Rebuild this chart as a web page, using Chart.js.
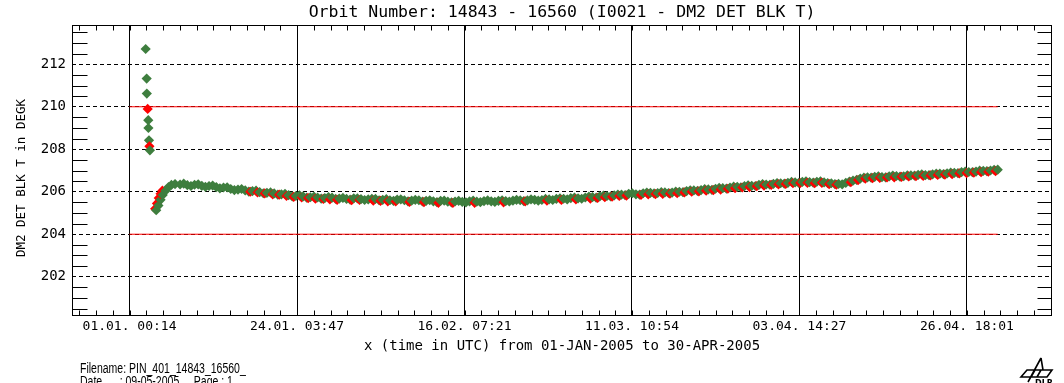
<!DOCTYPE html>
<html>
<head>
<meta charset="utf-8">
<title>DM2 DET BLK T</title>
<script src="https://cdn.jsdelivr.net/npm/chart.js@4.4.1/dist/chart.umd.min.js"></script>
<style>
    html, body { margin: 0; padding: 0; background: #fff; }
    #wrap { width: 1064px; height: 383px; }
</style>
</head>
<body>
<div id="wrap"><canvas id="chart" width="1064" height="383"></canvas></div>
<script>
// x values are days since 01-JAN-2005 00:00
var xTickDays = [0.0097, 23.158, 46.306, 69.454, 92.602, 115.750];
var xTickLabels = ['01.01. 00:14', '24.01. 03:47', '16.02. 07:21', '11.03. 10:54', '03.04. 14:27', '26.04. 18:01'];
var yTicks = [202, 204, 206, 208, 210, 212];

// red limit lines
var limitDays = [0, 120];
var lowLimit = 204;
var highLimit = 210;

// green diamonds, start-up and one per day
var greenDays = [
    2.24, 2.38, 2.40, 2.60, 2.62, 2.70, 2.83,
    3.7, 4.0, 4.3, 4.6, 5.0, 5.4, 5.8, 6.3,
    7, 8, 9, 10, 11, 12, 13, 14, 15, 16,
    17, 18, 19, 20, 21, 22, 23, 24, 25, 26,
    27, 28, 29, 30, 31, 32, 33, 34, 35, 36,
    37, 38, 39, 40, 41, 42, 43, 44, 45, 46,
    47, 48, 49, 50, 51, 52, 53, 54, 55, 56,
    57, 58, 59, 60, 61, 62, 63, 64, 65, 66,
    67, 68, 69, 70, 71, 72, 73, 74, 75, 76,
    77, 78, 79, 80, 81, 82, 83, 84, 85, 86,
    87, 88, 89, 90, 91, 92, 93, 94, 95, 96,
    97, 98, 99, 100, 101, 102, 103, 104, 105, 106,
    107, 108, 109, 110, 111, 112, 113, 114, 115, 116,
    117, 118, 119, 120
];
var greenTemps = [
    212.72, 211.33, 210.62, 209.37, 209.00, 208.42, 207.95,
    205.13, 205.35, 205.62, 205.85, 206.05, 206.22, 206.32, 206.36,
    206.34, 206.31, 206.33, 206.28, 206.27, 206.22, 206.20, 206.13, 206.10, 206.06,
    206.03, 205.98, 205.95, 205.92, 205.88, 205.84, 205.80, 205.78, 205.74, 205.73,
    205.70, 205.72, 205.68, 205.66, 205.69, 205.65, 205.64, 205.66, 205.62, 205.60,
    205.63, 205.60, 205.58, 205.60, 205.57, 205.55, 205.57, 205.53, 205.54, 205.52,
    205.55, 205.53, 205.56, 205.55, 205.57, 205.56, 205.58, 205.60, 205.59, 205.62,
    205.61, 205.64, 205.66, 205.67, 205.70, 205.69, 205.73, 205.75, 205.78, 205.80,
    205.83, 205.86, 205.90, 205.88, 205.93, 205.95, 205.94, 205.97, 205.96, 206.00,
    206.03, 206.06, 206.08, 206.11, 206.14, 206.17, 206.20, 206.23, 206.26, 206.28,
    206.32, 206.34, 206.37, 206.40, 206.42, 206.44, 206.46, 206.45, 206.47, 206.44,
    206.40, 206.37, 206.42, 206.52, 206.62, 206.68, 206.70, 206.69, 206.72, 206.74,
    206.73, 206.77, 206.79, 206.78, 206.82, 206.85, 206.86, 206.89, 206.92, 206.93,
    206.95, 206.98, 207.00, 207.04
];

// green diamonds in between, at mid-day
var greenHalfDays = [
    7.5, 8.5, 9.5, 10.5, 11.5, 12.5, 13.5, 14.5, 15.5, 16.5,
    17.5, 18.5, 19.5, 20.5, 21.5, 22.5, 23.5, 24.5, 25.5, 26.5,
    27.5, 28.5, 29.5, 30.5, 31.5, 32.5, 33.5, 34.5, 35.5, 36.5,
    37.5, 38.5, 39.5, 40.5, 41.5, 42.5, 43.5, 44.5, 45.5, 46.5,
    47.5, 48.5, 49.5, 50.5, 51.5, 52.5, 53.5, 54.5, 55.5, 56.5,
    57.5, 58.5, 59.5, 60.5, 61.5, 62.5, 63.5, 64.5, 65.5, 66.5,
    67.5, 68.5, 69.5, 70.5, 71.5, 72.5, 73.5, 74.5, 75.5, 76.5,
    77.5, 78.5, 79.5, 80.5, 81.5, 82.5, 83.5, 84.5, 85.5, 86.5,
    87.5, 88.5, 89.5, 90.5, 91.5, 92.5, 93.5, 94.5, 95.5, 96.5,
    97.5, 98.5, 99.5, 100.5, 101.5, 102.5, 103.5, 104.5, 105.5, 106.5,
    107.5, 108.5, 109.5, 110.5, 111.5, 112.5, 113.5, 114.5, 115.5, 116.5,
    117.5, 118.5, 119.5
];
var greenHalfTemps = [
    206.38, 206.27, 206.35, 206.23, 206.29, 206.16, 206.21, 206.08, 206.13, 206.01,
    206.05, 205.93, 205.97, 205.86, 205.90, 205.78, 205.83, 205.72, 205.77, 205.68,
    205.75, 205.66, 205.71, 205.63, 205.69, 205.61, 205.67, 205.60, 205.65, 205.57,
    205.64, 205.55, 205.62, 205.54, 205.60, 205.51, 205.58, 205.50, 205.57, 205.50,
    205.58, 205.51, 205.59, 205.52, 205.60, 205.54, 205.62, 205.56, 205.64, 205.58,
    205.66, 205.61, 205.69, 205.64, 205.73, 205.67, 205.77, 205.72, 205.82, 205.78,
    205.87, 205.84, 205.93, 205.86, 205.96, 205.92, 205.98, 205.94, 206.01, 205.98,
    206.07, 206.04, 206.12, 206.09, 206.18, 206.15, 206.24, 206.21, 206.30, 206.27,
    206.36, 206.33, 206.41, 206.38, 206.46, 206.42, 206.49, 206.43, 206.49, 206.41,
    206.36, 206.35, 206.48, 206.56, 206.66, 206.66, 206.73, 206.68, 206.76, 206.71,
    206.77, 206.76, 206.82, 206.78, 206.85, 206.83, 206.90, 206.88, 206.95, 206.92,
    206.99, 206.97, 207.03
];

// red diamonds
var redDays = [
    2.52, 2.76,
    3.55, 3.8, 4.05, 4.3, 4.55,
    16.7, 17.7, 18.7, 19.8, 20.7, 21.7, 22.7, 23.8, 24.7, 25.7,
    26.8, 27.7, 28.7, 30.7, 31.8, 33.7, 34.7, 35.7, 36.8, 38.7,
    40.7, 42.7, 44.7, 47.7, 51.7, 54.7, 57.7, 59.7, 61.7, 63.7,
    64.7, 65.7, 66.7, 67.7, 68.7, 70.7, 71.7, 72.7, 73.7, 74.7,
    75.7, 76.7, 77.7, 78.7, 79.7, 80.7, 81.7, 82.7, 83.7, 84.7,
    85.7, 86.7, 87.7, 88.7, 89.7, 90.7, 91.7, 92.7, 93.7, 94.7,
    95.7, 96.7, 97.7, 99.7, 100.7, 101.7, 102.7, 103.7, 104.7, 105.7,
    106.7, 107.7, 108.7, 109.7, 110.7, 111.7, 112.7, 113.7, 114.7, 115.7,
    116.7, 117.7, 118.7, 119.7
];
var redTemps = [
    209.90, 208.14,
    205.20, 205.45, 205.70, 205.90, 206.05,
    206.00, 205.97, 205.92, 205.88, 205.86, 205.80, 205.76, 205.73, 205.70, 205.67,
    205.66, 205.64, 205.62, 205.60, 205.61, 205.58, 205.57, 205.55, 205.54, 205.52,
    205.51, 205.48, 205.47, 205.48, 205.50, 205.55, 205.58, 205.61, 205.64, 205.68,
    205.71, 205.74, 205.77, 205.80, 205.82, 205.85, 205.88, 205.89, 205.90, 205.91,
    205.93, 205.97, 206.00, 206.02, 206.05, 206.08, 206.10, 206.14, 206.17, 206.20,
    206.22, 206.26, 206.29, 206.32, 206.35, 206.37, 206.40, 206.41, 206.42, 206.40,
    206.42, 206.36, 206.33, 206.45, 206.55, 206.62, 206.64, 206.65, 206.67, 206.68,
    206.70, 206.72, 206.73, 206.74, 206.77, 206.79, 206.81, 206.83, 206.86, 206.88,
    206.90, 206.92, 206.94, 206.97
];

var mono = 'DejaVu Sans Mono';
var green = '#3e7e3e';
var red = '#ff0000';

// one series in time order so later points are drawn over earlier ones
function buildSeries() {
    var pts = [];
    var i;
    for (i = 0; i < greenDays.length; i++) pts.push({x: greenDays[i], y: greenTemps[i], c: green});
    for (i = 0; i < greenHalfDays.length; i++) pts.push({x: greenHalfDays[i], y: greenHalfTemps[i], c: green});
    for (i = 0; i < redDays.length; i++) pts.push({x: redDays[i], y: redTemps[i], c: red});
    pts.sort(function (a, b) { return a.x - b.x; });
    return pts;
}

function toPoints(xs, ys) {
    var pts = [];
    for (var i = 0; i < xs.length; i++) {
        pts.push({x: xs[i], y: ys[i]});
    }
    return pts;
}

var series = buildSeries();

// frame, minor ticks, title, footer text and logo
var decorPlugin = {
    id: 'decor',
    afterDraw: function (chart) {
        var ctx = chart.ctx;
        var a = chart.chartArea;
        var xs = chart.scales.x;
        var ys = chart.scales.y;
        var L = Math.round(a.left) + 0.5, R = Math.round(a.right) - 0.5;
        var T = Math.round(a.top) + 0.5, B = Math.round(a.bottom) - 0.5;

        ctx.save();
        ctx.strokeStyle = '#000';
        ctx.lineWidth = 1;
        ctx.strokeRect(L, T, R - L, B - T);

        // y minor ticks every 0.5
        ctx.beginPath();
        for (var v = 200.5; v < ys.max; v += 0.5) {
            if (yTicks.indexOf(v) >= 0) continue;
            var py = Math.round(ys.getPixelForValue(v)) + 0.5;
            ctx.moveTo(L, py); ctx.lineTo(L + 15, py);
            ctx.moveTo(R, py); ctx.lineTo(R - 14, py);
        }
        // x minor ticks, tenths of the major interval
        var step = (xTickDays[1] - xTickDays[0]) / 10;
        var start = xTickDays[0] - Math.floor((xTickDays[0] - xs.min) / step) * step;
        for (var d = start; d < xs.max; d += step) {
            var px = Math.round(xs.getPixelForValue(d)) + 0.5;
            ctx.moveTo(px, B); ctx.lineTo(px, B - 5);
            ctx.moveTo(px, T); ctx.lineTo(px, T + 5);
        }
        ctx.stroke();

        // title
        ctx.fillStyle = '#000';
        ctx.font = '16.5px ' + mono;
        ctx.textAlign = 'center';
        ctx.textBaseline = 'middle';
        ctx.fillText('Orbit Number: 14843 - 16560 (I0021 - DM2 DET BLK T)', (a.left + a.right) / 2, 13);

        // footer, narrow lettering
        ctx.textAlign = 'left';
        ctx.textBaseline = 'alphabetic';
        ctx.font = '14px "Liberation Sans"';
        ctx.save();
        ctx.translate(80, 0);
        ctx.scale(0.75, 1);
        ctx.fillText('Filename: PIN_401_14843_16560_', 0, 373);
        ctx.fillText('Date      : 09-05-2005     Page : 1', 0, 386);
        ctx.restore();

        // DLR logo
        ctx.lineWidth = 1.6;
        ctx.beginPath();
        ctx.moveTo(1041, 358); ctx.lineTo(1028, 382);
        ctx.moveTo(1041, 358); ctx.lineTo(1043, 370);
        ctx.moveTo(1027, 370); ctx.lineTo(1052, 370);
        ctx.lineTo(1047, 377); ctx.lineTo(1021, 377); ctx.closePath();
        ctx.moveTo(1035, 370); ctx.lineTo(1031, 377);
        ctx.moveTo(1041, 370); ctx.lineTo(1037, 377);
        ctx.stroke();
        ctx.font = 'bold 8px "DejaVu Sans"';
        ctx.fillText('DLR', 1035, 386);
        ctx.restore();
    }
};

var ctx = document.getElementById('chart').getContext('2d');
var chart = new Chart(ctx, {
    type: 'scatter',
    data: {
        datasets: [
            {
                label: 'DM2 DET BLK T',
                data: series,
                pointStyle: 'rectRot',
                pointRadius: 5.1,
                borderWidth: 0,
                backgroundColor: series.map(function (p) { return p.c; }),
                order: 1
            },
            {
                label: 'upper limit',
                type: 'line',
                data: toPoints(limitDays, [highLimit, highLimit]),
                borderColor: red,
                borderWidth: 1,
                pointRadius: 0,
                order: 3
            },
            {
                label: 'lower limit',
                type: 'line',
                data: toPoints(limitDays, [lowLimit, lowLimit]),
                borderColor: red,
                borderWidth: 1,
                pointRadius: 0,
                order: 4
            }
        ]
    },
    options: {
        responsive: false,
        animation: false,
        layout: {padding: {top: 25, right: 12, left: 0, bottom: 0}},
        plugins: {
            legend: {display: false},
            tooltip: {enabled: false},
            title: {display: false}
        },
        scales: {
            x: {
                type: 'linear',
                min: -7.94,
                max: 127.5,
                afterBuildTicks: function (s) {
                    s.ticks = xTickDays.map(function (v) { return {value: v}; });
                },
                afterFit: function (s) { s.height = 67; },
                ticks: {
                    callback: function (v, i) { return xTickLabels[i]; },
                    font: {family: mono, size: 13},
                    color: '#000',
                    padding: 3,
                    maxRotation: 0,
                    autoSkip: false
                },
                grid: {color: '#000', lineWidth: 1, drawTicks: false},
                border: {display: false},
                title: {
                    display: true,
                    text: 'x (time in UTC) from 01-JAN-2005 to 30-APR-2005',
                    font: {family: mono, size: 14},
                    color: '#000',
                    padding: {top: 0, bottom: 28}
                }
            },
            y: {
                min: 200.15,
                max: 213.85,
                afterBuildTicks: function (s) {
                    s.ticks = yTicks.map(function (v) { return {value: v}; });
                },
                afterFit: function (s) { s.width = 72; },
                ticks: {
                    font: {family: mono, size: 14},
                    color: '#000',
                    padding: 6
                },
                grid: {color: '#000', lineWidth: 1, drawTicks: false},
                border: {display: false, dash: [4, 3]},
                title: {
                    display: true,
                    text: 'DM2 DET BLK T in DEGK  ',
                    font: {family: mono, size: 12.5},
                    color: '#000',
                    padding: {top: 14, bottom: 0}
                }
            }
        }
    },
    plugins: [decorPlugin]
});
</script>
</body>
</html>
